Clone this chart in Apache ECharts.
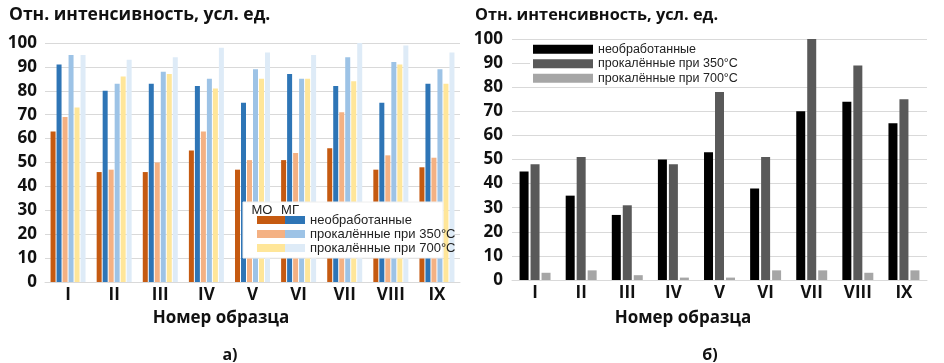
<!DOCTYPE html>
<html><head><meta charset="utf-8">
<script src="https://cdn.jsdelivr.net/npm/echarts@6/dist/echarts.min.js"></script>
<style>html,body{margin:0;padding:0;background:#fff}#c{width:944px;height:363px}</style>
</head><body><div id="c"></div>
<script>
// categories
const samples = ['I','II','III','IV','V','VI','VII','VIII','IX'];
const yTicks = [0,10,20,30,40,50,60,70,80,90,100];
// chart а) – MO and MG
const moRaw   = [63,46,46,55,47,51,56,47,48];
const mgRaw   = [91,80,83,82,75,87,82,75,83];
const mo350   = [69,47,50,63,51,54,71,53,52];
const mg350   = [95,83,88,85,89,85,94,92,89];
const mo700   = [73,86,87,81,85,85,84,91,83];
const mg700   = [95,93,94,98,96,95,100,99,96];
// chart б)
const bRaw = [45,35,27,50,53,38,70,74,65];
const b350 = [48,51,31,48,78,51,100,89,75];
const b700 = [3,4,2,1,1,4,4,3,4];
const legendTexts = ['необработанные','прокалённые при 350°C','прокалённые при 700°C'];

const font = '"Open Sans", "Liberation Sans", sans-serif';
const lfont = '"Liberation Sans", Arial, sans-serif';
const chart = echarts.init(document.getElementById('c'));

function yAxis(gi, margin){
  return {gridIndex: gi, type:'value', min:0, max:100, interval:10,
    axisLine:{show:false}, axisTick:{show:false},
    splitLine:{lineStyle:{color:'#d9d9d9', width:1}},
    axisLabel:{color:'#111', fontFamily:font, fontWeight:'bold', fontSize:17, margin: margin}};
}
function xAxis(gi){
  return {gridIndex: gi, type:'category', data: samples,
    axisLine:{show:true, lineStyle:{color:'#d9d9d9'}}, axisTick:{show:false},
    axisLabel:{color:'#111', fontFamily:font, fontWeight:'bold', fontSize:17, margin:5}};
}
function bar(name, data, color, gi, w, gap){
  return {name, type:'bar', data, xAxisIndex:gi, yAxisIndex:gi, barWidth:w, barGap:gap,
    itemStyle:{color}, emphasis:{disabled:true}, silent:true, z:2};
}
const leftNamesMO = ['МО необработанные','МО прокалённые 350','МО прокалённые 700'];
const leftNamesMG = ['МГ необработанные','МГ прокалённые 350','МГ прокалённые 700'];
const rightNames = ['б необработанные','б прокалённые 350','б прокалённые 700'];

chart.setOption({
  animation:false,
  textStyle:{fontFamily:font},
  grid:[
    {left:45, right:944-460, top:43, bottom:363-282},
    {left:512, right:944-927, top:39, bottom:363-280}
  ],
  xAxis:[xAxis(0), xAxis(1)],
  yAxis:[yAxis(0,8), yAxis(1,9)],
  legend:[
    {data:leftNamesMO, orient:'vertical', left:257, top:213, padding:0, itemGap:0,
     itemWidth:28, itemHeight:8, icon:'rect', formatter:()=>' ', selectedMode:false, z:10,
     textStyle:{fontSize:13, lineHeight:14, fontFamily:lfont}},
    {data:leftNamesMG, orient:'vertical', left:285, top:213, padding:0, itemGap:0,
     itemWidth:20, itemHeight:8, icon:'rect', selectedMode:false, z:10,
     formatter:(n)=>legendTexts[leftNamesMG.indexOf(n)],
     textStyle:{color:'#222', fontSize:13, lineHeight:14, fontFamily:lfont}},
    {data:rightNames, orient:'vertical', left:533, top:42, padding:0, itemGap:0,
     itemWidth:60, itemHeight:9, icon:'rect', selectedMode:false, z:10,
     formatter:(n)=>legendTexts[rightNames.indexOf(n)],
     textStyle:{color:'#222', fontSize:12.5, lineHeight:14.5, fontFamily:lfont}}
  ],
  series:[
    bar(leftNamesMO[0], moRaw, '#c55a11', 0, 5, '20%'),
    bar(leftNamesMG[0], mgRaw, '#2e75b6', 0, 5, '20%'),
    bar(leftNamesMO[1], mo350, '#f4b183', 0, 5, '20%'),
    bar(leftNamesMG[1], mg350, '#9dc3e6', 0, 5, '20%'),
    bar(leftNamesMO[2], mo700, '#ffe699', 0, 5, '20%'),
    bar(leftNamesMG[2], mg700, '#deebf7', 0, 5, '20%'),
    bar(rightNames[0], bRaw, '#000000', 1, 9, '22%'),
    bar(rightNames[1], b350, '#595959', 1, 9, '22%'),
    bar(rightNames[2], b700, '#a6a6a6', 1, 9, '22%')
  ],
  graphic:[
    {type:'rect', shape:{x:243, y:202, width:200, height:56}, style:{fill:'#fff', stroke:'#eeeeee'}, z:5, silent:true},
    {type:'rect', shape:{x:530, y:42, width:397, height:43}, style:{fill:'#fff'}, z:1, silent:true},
    {type:'text', x:262, y:210, style:{text:'МО', fill:'#222', font:'13px '+lfont, align:'center', verticalAlign:'middle'}, z:11},
    {type:'text', x:290, y:210, style:{text:'МГ', fill:'#222', font:'13px '+lfont, align:'center', verticalAlign:'middle'}, z:11},
    {type:'text', x:9, y:15, style:{text:'Отн. интенсивность, усл. ед.', fill:'#111', font:'bold 17.5px '+font, verticalAlign:'middle'}, z:11},
    {type:'text', x:475, y:15, style:{text:'Отн. интенсивность, усл. ед.', fill:'#111', font:'bold 16.3px '+font, verticalAlign:'middle'}, z:11},
    {type:'text', x:221, y:318, style:{text:'Номер образца', fill:'#111', font:'bold 17px '+font, align:'center', verticalAlign:'middle'}, z:11},
    {type:'text', x:683, y:318, style:{text:'Номер образца', fill:'#111', font:'bold 17px '+font, align:'center', verticalAlign:'middle'}, z:11},
    {type:'text', x:230, y:355, style:{text:'а)', fill:'#111', font:'bold 16px '+font, align:'center', verticalAlign:'middle'}, z:11},
    {type:'text', x:710, y:355, style:{text:'б)', fill:'#111', font:'bold 16px '+font, align:'center', verticalAlign:'middle'}, z:11}
  ]
});
</script></body></html>
